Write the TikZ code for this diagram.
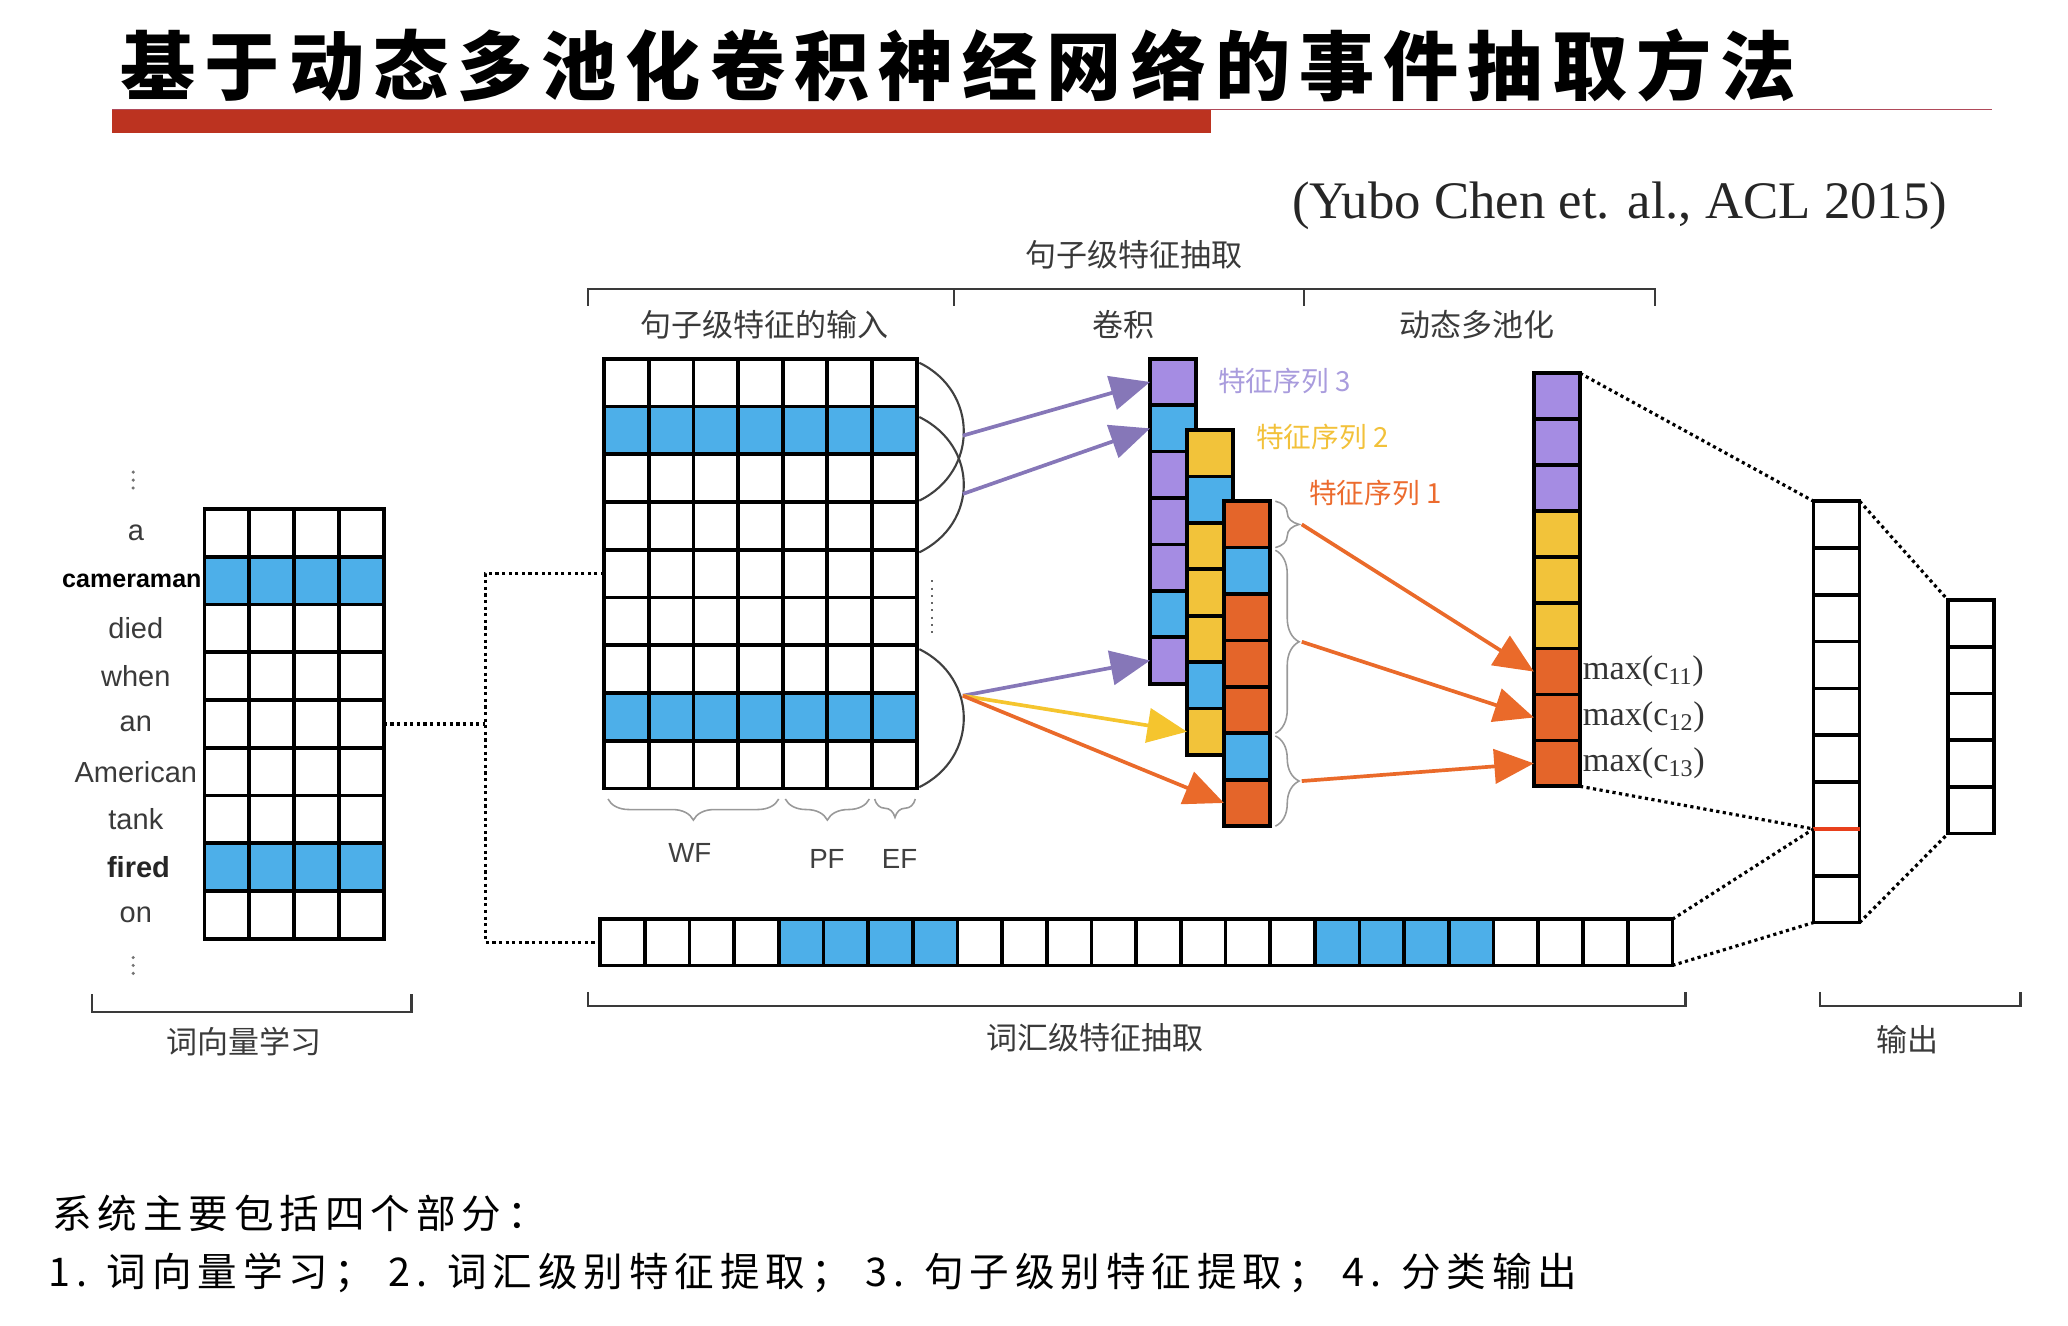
\documentclass[tikz,border=0pt]{standalone}
\usepackage{fontspec}
\setmainfont{Liberation Serif}
\setsansfont{Liberation Sans}
\newfontfamily\cjk{Noto Sans CJK SC}
\newfontfamily\cjktitle[LetterSpace=12]{Noto Sans CJK SC}
\newfontfamily\cjknote[LetterSpace=15]{Noto Sans CJK SC}
\usetikzlibrary{arrows.meta,decorations.pathreplacing,calc}

\definecolor{cellblue}{HTML}{4DAFE9}
\definecolor{cellpurple}{HTML}{A58CE3}
\definecolor{cellyellow}{HTML}{F2C33A}
\definecolor{cellorange}{HTML}{E4652A}
\definecolor{arrpurple}{HTML}{8677B8}
\definecolor{arryellow}{HTML}{F5C52E}
\definecolor{arrorange}{HTML}{EA6A2A}
\definecolor{seqpurple}{HTML}{A99CDD}
\definecolor{seqyellow}{HTML}{F2C13A}
\definecolor{seqorange}{HTML}{EC6B2E}
\definecolor{titlered}{HTML}{BC3320}
\definecolor{titleline}{HTML}{B04A5A}
\definecolor{redline}{HTML}{E8401C}
\definecolor{labgray}{HTML}{3A3A3A}

\tikzset{
  cell/.style={draw=black, line width=2.8pt, inner sep=0pt, outer sep=0pt,
    minimum width=35pt, minimum height=35.2pt},
  dotline/.style={line width=2.4pt, dash pattern=on 2.4pt off 2.6pt},
  bracket/.style={draw=labgray, line width=1.6pt},
  arcline/.style={draw=black!75, line width=1.6pt},
  brc/.style={draw=black!40, line width=1.2pt, decorate,
    decoration={brace, amplitude=#1}},
  arr/.style={line width=2.8pt, -{Triangle[length=30pt,width=26pt]}},
  lab/.style={font=\cjk\fontsize{23.5}{26}\selectfont, text=labgray},
  word/.style={font=\sffamily\fontsize{22}{24}\selectfont, text=labgray},
  feat/.style={font=\sffamily\fontsize{21}{23}\selectfont, text=black!75},
  seq/.style={anchor=west, font=\cjk\fontsize{21}{23}\selectfont},
  maxlab/.style={anchor=west, font=\fontsize{26}{28}\selectfont, text=black!80, inner sep=2pt}
}

\begin{document}
\begin{tikzpicture}[x=1pt,y=-1pt]
\useasboundingbox (0,0) rectangle (1568,1005);

% title
\fill[titlered] (85,83) rectangle (918,101);
\draw[titleline, line width=1.4pt] (85,83) -- (1510,83);
\node[anchor=west, font=\cjktitle\bfseries\fontsize{57}{60}\selectfont] (title) at (88,50) {基于动态多池化卷积神经网络的事件抽取方法};
\node[font=\fontsize{40}{44}\selectfont, text=black!85] (cite) at (1228,156) {(Yubo Chen et. al., ACL 2015)};

% brackets and part labels
\draw[bracket] (446,232) -- (446,219) -- (1255,219) -- (1255,232);
\draw[bracket] (723,219) -- (723,232);
\draw[bracket] (989,219) -- (989,232);
\draw[bracket] (70,754) -- (70,767) -- (312,767) -- (312,754);
\draw[bracket] (446,752) -- (446,763) -- (1278,763) -- (1278,752);
\draw[bracket] (1380,752) -- (1380,763) -- (1532,763) -- (1532,752);
\node[lab] (lsent) at (860,193) {句子级特征抽取};
\node[lab] (linp) at (580,246) {句子级特征的输入};
\node[lab] (lconv) at (852,246) {卷积};
\node[lab] (lpool) at (1120,246) {动态多池化};
\node[lab] (lemb) at (185,790) {词向量学习};
\node[lab] (llex) at (830,787) {词汇级特征抽取};
\node[lab] (lout) at (1446,788) {输出};

% word vectors
\foreach \r in {1,3,4,5,6,7,9}
  \foreach \c in {1,...,4}
    \node[cell, minimum width=34pt, minimum height=36.2pt] (v-\r-\c) at ({155+34*(\c-0.5)},{386+36.2*(\r-0.5)}) {};
\foreach \r in {2,8}
  \foreach \c in {1,...,4}
    \node[cell, fill=cellblue, minimum width=34pt, minimum height=36.2pt] (v-\r-\c) at ({155+34*(\c-0.5)},{386+36.2*(\r-0.5)}) {};
\foreach \r/\w in {1/a,3/died,4/when,5/an,6/American,7/tank,9/on}
  \node[word] (w-\r) at (103,{386+36.2*(\r-0.5)}) {\w};
\node[word, font=\sffamily\bfseries\fontsize{19}{22}\selectfont, text=black] (w-2) at (100,{386+36.2*1.5}) {cameraman};
\node[word, font=\sffamily\bfseries\fontsize{22}{24}\selectfont, text=black!85] (w-8) at (105,{386+36.2*7.5}) {fired};
\foreach \k in {0,1,2} {
  \fill[black!55] (101,{358+6*\k}) circle (1.3);
  \fill[black!55] (101,{726+6*\k}) circle (1.3);
}

% sentence level input
\foreach \r in {1,3,4,5,6,7,9}
  \foreach \c in {1,...,7}
    \node[cell, minimum width=33.86pt, minimum height=36.2pt] (s-\r-\c) at ({458+33.86*(\c-0.5)},{272+36.2*(\r-0.5)}) {};
\foreach \r in {2,8}
  \foreach \c in {1,...,7}
    \node[cell, fill=cellblue, minimum width=33.86pt, minimum height=36.2pt] (s-\r-\c) at ({458+33.86*(\c-0.5)},{272+36.2*(\r-0.5)}) {};

\draw[brc=16pt] ($(s-9-4.south east)+(-3,8)$) -- ($(s-9-1.south west)+(3,8)$);
\draw[brc=16pt] ($(s-9-6.south east)+(-2,8)$) -- ($(s-9-5.south west)+(2,8)$);
\draw[brc=14pt] ($(s-9-7.south east)+(-1,8)$) -- ($(s-9-7.south west)+(2,8)$);
\node[feat] (lwf) at (523,647) {WF};
\node[feat] (lpf) at (627,651) {PF};
\node[feat] (lef) at (682,651) {EF};

% lexical level
\foreach \c in {1,2,3,4,9,10,11,12,13,14,15,16,21,22,23,24}
  \node[cell, minimum width=33.875pt, minimum height=35pt] (x-\c) at ({455+33.875*(\c-0.5)},714.5) {};
\foreach \c in {5,6,7,8,17,18,19,20}
  \node[cell, fill=cellblue, minimum width=33.875pt, minimum height=35pt] (x-\c) at ({455+33.875*(\c-0.5)},714.5) {};

\coordinate (jx) at (368,600);
\draw[dotline] (v-5-4.east) -- (v-5-4.east -| jx);
\draw[dotline] (s-5-1.west) -| (jx) |- (x-1.west);

% convolution windows
\draw[arcline] ($(s-1-7.north east)+(2,3)$) .. controls +(45,22) and +(45,-22) .. ($(s-3-7.south east)+(2,-1)$);
\draw[arcline] ($(s-2-7.north east)+(2,8)$) .. controls +(45,22) and +(45,-22) .. ($(s-4-7.south east)+(2,2)$);
\draw[arcline] ($(s-7-7.north east)+(2,3)$) .. controls +(45,22) and +(45,-22) .. ($(s-9-7.south east)+(2,-1)$);
\draw[black!60, line width=1.5pt, dash pattern=on 1.5pt off 4pt] (707,440) -- (707,480);
\coordinate (kA) at ($(s-2-7.east)+(35,4)$);
\coordinate (kB) at ($(s-3-7.east)+(35,12)$);
\coordinate (kC) at ($(s-8-7.east)+(35,-16)$);

% feature maps
\foreach \i/\f in {1/cellpurple,2/cellblue,3/cellpurple,4/cellpurple,5/cellpurple,6/cellblue,7/cellpurple}
  \node[cell, fill=\f] (c3-\i) at (889.5,{272+35.2*(\i-0.5)}) {};
\foreach \i/\f in {1/cellyellow,2/cellblue,3/cellyellow,4/cellyellow,5/cellyellow,6/cellblue,7/cellyellow}
  \node[cell, fill=\f] (c2-\i) at (917.5,{326+35.2*(\i-0.5)}) {};
\foreach \i/\f in {1/cellorange,2/cellblue,3/cellorange,4/cellorange,5/cellorange,6/cellblue,7/cellorange}
  \node[cell, fill=\f] (c1-\i) at (945.5,{380+35.2*(\i-0.5)}) {};
\node[seq, text=seqpurple] (lq3) at (920,289) {特征序列 3};
\node[seq, text=seqyellow] (lq2) at (949,331) {特征序列 2};
\node[seq, text=seqorange] (lq1) at (989,374) {特征序列 1};

\draw[arr, arrpurple] (kA) -- (c3-1.west);
\draw[arr, arrpurple] (kB) -- (c3-2.west);
\draw[arr, arrpurple] (kC) -- (c3-7.west);
\draw[arr, arryellow] (kC) -- (c2-7.west);
\draw[arr, arrorange] (kC) -- (c1-7.west);

% dynamic multi-pooling
\draw[brc=18pt] ($(c1-1.north east)+(4,0)$) -- coordinate[midway, xshift=20pt] (t1) ($(c1-1.south east)+(4,0)$);
\draw[brc=18pt] ($(c1-2.north east)+(4,2)$) -- coordinate[midway, xshift=20pt] (t2) ($(c1-5.south east)+(4,0)$);
\draw[brc=18pt] ($(c1-6.north east)+(4,2)$) -- coordinate[midway, xshift=20pt] (t3) ($(c1-7.south east)+(4,0)$);

\foreach \i in {1,2,3}
  \node[cell, fill=cellpurple, minimum height=34.8pt] (p-\i) at (1180.5,{283+34.8*(\i-0.5)}) {};
\foreach \i in {4,5,6}
  \node[cell, fill=cellyellow, minimum height=34.8pt] (p-\i) at (1180.5,{283+34.8*(\i-0.5)}) {};
\foreach \i in {7,8,9}
  \node[cell, fill=cellorange, minimum height=34.8pt] (p-\i) at (1180.5,{283+34.8*(\i-0.5)}) {};
\node[maxlab] (m1) at (p-7.east) {max(c\textsubscript{11})};
\node[maxlab] (m2) at (p-8.east) {max(c\textsubscript{12})};
\node[maxlab] (m3) at (p-9.east) {max(c\textsubscript{13})};

\draw[arr, arrorange] (t1) -- (p-7.west);
\draw[arr, arrorange] (t2) -- (p-8.west);
\draw[arr, arrorange] (t3) -- (p-9.west);

% classifier
\foreach \i in {1,...,9}
  \node[cell, minimum height=35.5pt] (h-\i) at (1392.5,{380+35.5*(\i-0.5)}) {};
\draw[redline, line width=3.2pt] (h-7.south west) -- (h-7.south east);
\foreach \i in {1,...,5}
  \node[cell, minimum height=35.4pt] (o-\i) at (1494.5,{455+35.4*(\i-0.5)}) {};

\draw[dotline] (p-1.north east) -- (h-1.north west);
\draw[dotline] (p-9.south east) -- (h-7.south west);
\draw[dotline] (x-24.north east) -- (h-7.south west);
\draw[dotline] (x-24.south east) -- (h-9.south west);
\draw[dotline] (h-1.north east) -- (o-1.north west);
\draw[dotline] (h-9.south east) -- (o-5.south west);

% summary
\node[anchor=west, font=\cjknote\fontsize{30}{34}\selectfont] (sum1) at (36,920) {系统主要包括四个部分：};
\node[anchor=west, font=\cjknote\fontsize{30}{34}\selectfont] (sum2) at (33,965) {1. 词向量学习； 2. 词汇级别特征提取； 3. 句子级别特征提取； 4. 分类输出};
\end{tikzpicture}
\end{document}
